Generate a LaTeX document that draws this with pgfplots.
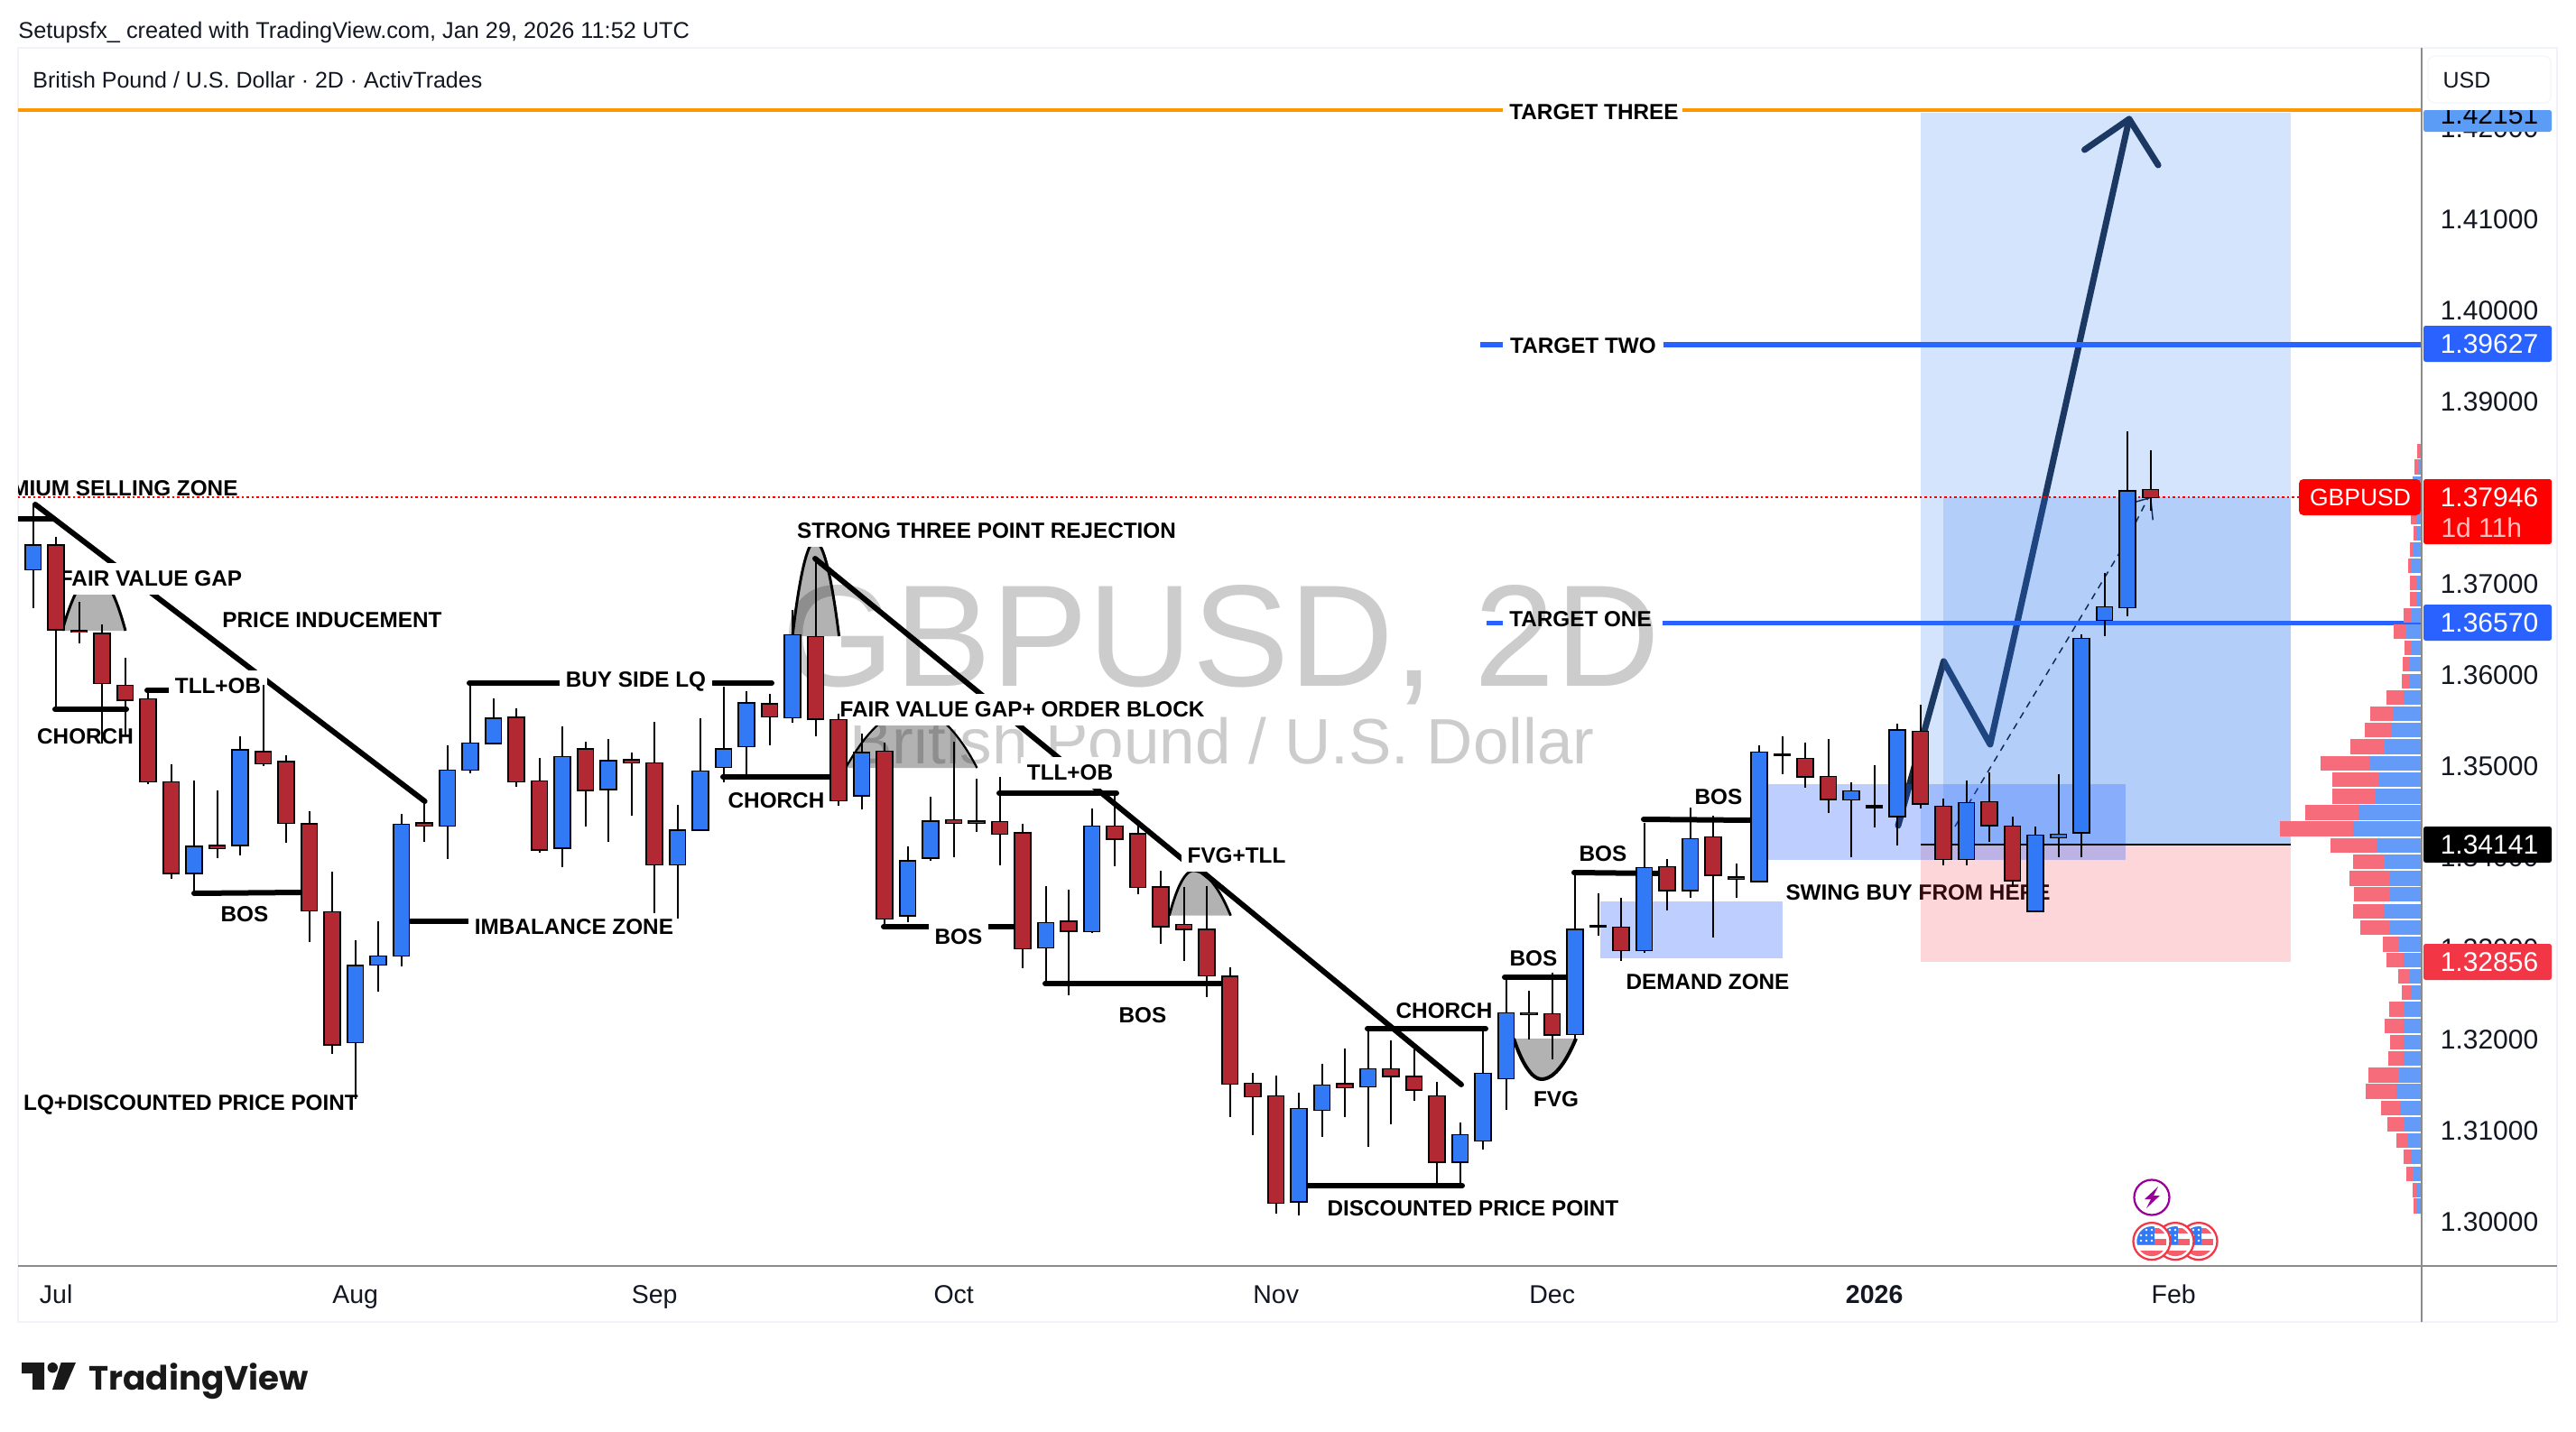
\documentclass[border=0pt]{standalone}
\usepackage{pgfplots}
\pgfplotsset{compat=1.18}
\usepackage{pgfplotstable}
\usepackage{fontspec}
\setmainfont{Liberation Sans}
\newfontfamily\logofont{Poppins}
\definecolor{cblue}{RGB}{49,121,245}
\definecolor{cred}{RGB}{178,40,51}
\definecolor{tvblue}{RGB}{41,98,255}
\definecolor{tvorange}{RGB}{255,152,0}
\definecolor{vpink}{RGB}{247,108,122}
\definecolor{vblue}{RGB}{100,155,248}
\definecolor{zoneb}{RGB}{44,121,241}
\definecolor{zoner}{RGB}{242,54,69}
\definecolor{navy}{RGB}{23,40,64}
\definecolor{wm}{RGB}{204,204,204}
\definecolor{frame}{RGB}{240,243,250}
\definecolor{axgray}{RGB}{140,140,140}
\definecolor{tagred}{RGB}{242,54,69}
\definecolor{taglight}{RGB}{91,156,246}
\definecolor{txt}{RGB}{19,23,34}
\pgfplotstableread{
i o h l c
0 1.37159 1.37879 1.36737 1.37423
7 1.33828 1.34841 1.33607 1.34116
9 1.34135 1.35325 1.34015 1.35177
14 1.3197 1.33089 1.31351 1.3281
15 1.3282 1.33295 1.32527 1.32911
16 1.32921 1.34471 1.32805 1.34356
18 1.34346 1.35225 1.33981 1.34951
19 1.34961 1.35911 1.34917 1.35249
20 1.35249 1.35743 1.35249 1.35522
23 1.34106 1.35431 1.33895 1.351
25 1.34745 1.35297 1.34164 1.35057
28 1.3392 1.34578 1.33325 1.34295
29 1.34304 1.35528 1.34304 1.34943
30 1.34991 1.35869 1.34818 1.35187
31 1.35216 1.35821 1.34909 1.35691
33 1.35533 1.36709 1.3548 1.36435
36 1.34679 1.35355 1.34525 1.35144
38 1.33363 1.34117 1.33291 1.33959
39 1.33997 1.34664 1.33963 1.34395
44 1.33008 1.33685 1.32605 1.33277
46 1.33186 1.34535 1.33167 1.34338
55 1.30221 1.31415 1.30069 1.31239
56 1.31226 1.31731 1.30931 1.31497
58 1.31485 1.32101 1.30824 1.31674
62 1.30656 1.31087 1.30397 1.30951
63 1.3089 1.32101 1.30795 1.31625
64 1.31575 1.32675 1.31231 1.3229
67 1.3206 1.33833 1.32006 1.33205
70 1.32979 1.34379 1.32955 1.33882
72 1.3364 1.34543 1.3355 1.34198
75 1.33735 1.35229 1.33735 1.35151
79 1.34632 1.34824 1.34003 1.34722
81 1.34451 1.35469 1.34127 1.35395
84 1.33979 1.34845 1.33909 1.34595
87 1.33412 1.34332 1.334 1.34237
88 1.34217 1.34907 1.34003 1.3425
89 1.3427 1.36446 1.34003 1.36397
90 1.36602 1.37123 1.3643 1.36742
91 1.36742 1.38671 1.36639 1.38018
}\bluecandles
\pgfplotstableread{
i o h l c
1 1.37423 1.37519 1.35623 1.36497
2 1.36482 1.36799 1.36343 1.36473
3 1.36449 1.36559 1.35249 1.35911
4 1.35882 1.36189 1.35335 1.35724
5 1.35733 1.35839 1.34797 1.34831
6 1.34821 1.35023 1.33761 1.33823
8 1.34125 1.34735 1.33991 1.34097
10 1.35157 1.35887 1.34999 1.35028
11 1.35047 1.35119 1.34159 1.34375
12 1.34365 1.34509 1.33065 1.33415
13 1.33396 1.33837 1.31845 1.31946
17 1.34375 1.34591 1.34173 1.34346
21 1.35532 1.35637 1.34769 1.34831
22 1.34831 1.35085 1.34049 1.34082
24 1.35186 1.35263 1.34341 1.34735
26 1.35066 1.35153 1.34457 1.35037
27 1.35029 1.3549 1.33387 1.3392
32 1.35682 1.35792 1.35231 1.35543
34 1.36416 1.37285 1.35331 1.35519
35 1.35504 1.35576 1.34568 1.34621
37 1.35159 1.35259 1.33263 1.33325
40 1.34405 1.35269 1.33997 1.34376
41 1.34391 1.34861 1.3428 1.34381
42 1.34386 1.34885 1.33915 1.34256
43 1.34266 1.34371 1.32787 1.32999
45 1.33296 1.33647 1.32485 1.33191
47 1.34338 1.34717 1.33901 1.34199
48 1.34256 1.34357 1.33599 1.33671
49 1.33671 1.33853 1.33051 1.33239
50 1.33258 1.33671 1.32864 1.33215
51 1.33205 1.3368 1.32461 1.32701
52 1.32691 1.32792 1.31151 1.31515
53 1.31515 1.31631 1.30949 1.31376
54 1.31378 1.31608 1.30089 1.30208
57 1.31514 1.319 1.31148 1.31473
59 1.31674 1.3199 1.31066 1.316
60 1.31592 1.31896 1.31329 1.31448
61 1.31378 1.31534 1.30397 1.30656
65 1.3229 1.32532 1.31998 1.32281
66 1.32277 1.32737 1.31785 1.32052
68 1.3325 1.33607 1.33135 1.33242
69 1.3323 1.3355 1.3286 1.32979
71 1.33891 1.33981 1.33414 1.3364
73 1.34219 1.34453 1.33115 1.33804
74 1.33776 1.33927 1.33558 1.33767
76 1.3513 1.35331 1.34913 1.35122
77 1.35081 1.35262 1.34761 1.34888
78 1.34882 1.35297 1.34488 1.3464
80 1.34558 1.35009 1.34324 1.3455
82 1.35379 1.35674 1.34537 1.3459
83 1.34554 1.3464 1.33913 1.33979
85 1.34603 1.34927 1.34168 1.34348
86 1.34336 1.34443 1.33675 1.33745
92 1.3803 1.3847 1.37801 1.37948
}\redcandles
\pgfplotstableread{
p a b
1.38457 103.60 103.69
1.38281 103.46 103.64
1.38096 103.37 103.44
1.37924 103.30 103.44
1.37739 103.30 103.55
1.37554 103.42 103.55
1.37374 103.28 103.37
1.37197 103.17 103.33
1.37012 103.26 103.57
1.36832 103.26 103.53
1.36651 102.99 103.33
1.36475 102.58 103.10
1.36298 103.05 103.33
1.36118 102.94 103.26
1.35933 102.90 103.26
1.35752 102.24 103.01
1.35576 101.56 102.56
1.35395 101.29 102.49
1.35214 100.66 102.17
1.35030 99.37 101.49
1.34853 99.89 101.92
1.34669 99.91 101.77
1.34492 98.71 101.04
1.34311 97.61 100.79
1.34130 99.80 101.81
1.33950 100.79 102.15
1.33769 100.64 102.40
1.33593 100.82 102.40
1.33408 100.79 102.13
1.33228 101.13 102.40
1.33047 102.08 102.80
1.32871 102.26 103.01
1.32694 102.74 103.24
1.32514 102.92 103.30
1.32333 102.37 103.03
1.32150 102.17 103.00
1.31970 102.41 103.00
1.31792 102.33 103.00
1.31611 101.47 102.81
1.31430 101.36 102.69
1.31248 102.02 102.84
1.31070 102.28 103.03
1.30893 102.69 103.17
1.30713 102.99 103.30
1.30527 103.12 103.43
1.30348 103.39 103.55
1.30171 103.43 103.57
}\volprofile
\tikzset{px/.style={x=0.4pt,y=-0.4pt}}
\pgfplotsset{ebar/.style={draw=none,no marks,forget plot}}
\newcommand{\lab}[3]{\node[fill=white,inner xsep=2.8pt,inner ysep=0pt,minimum height=14pt,text=black,font=\fontsize{9.72}{11}\selectfont\bfseries] at (#1,#2) {#3};}
\newcommand{\labn}[3]{\node[inner sep=0pt,text=black,font=\fontsize{9.72}{11}\selectfont\bfseries] at (#1,#2) {#3};}
\begin{document}
\begin{tikzpicture}
\path[use as bounding box,fill=white] (0,0) rectangle (1141.6pt,634.4pt);
\begin{scope}[px,shift={(0,-1586)}]
\node[inner sep=0pt,anchor=west,text=txt,font=\fontsize{10.12}{12}\selectfont] at (20,36) {Setupsfx\_ created with TradingView.com, Jan 29, 2026 11:52 UTC};
\draw[frame,line width=0.6pt] (20,53) rectangle (2833,1465);
\node[inner sep=0pt,anchor=west,text=txt,font=\fontsize{10}{12}\selectfont] at (36,89) {British Pound / U.S. Dollar · 2D · ActivTrades};
\node[anchor=base,inner sep=0pt,text=wm,font=\fontsize{64.2}{70}\selectfont] at (1353,760) {GBPUSD, 2D};
\node[anchor=base,inner sep=0pt,text=wm,font=\fontsize{28.4}{30}\selectfont] at (1354,846) {British Pound / U.S. Dollar};
% gray imbalance shapes
\fill[black,opacity=0.3] (69,699) parabola bend (104.7,636) (139,699) -- cycle;
\draw[black,line width=1.2pt] (69,699) parabola bend (104.7,636) (139,699);
\fill[black,opacity=0.3] (878,705) parabola bend (903,600) (929.6,705) -- cycle;
\draw[black,line width=1.2pt] (878,705) parabola bend (903,600) (929.6,705);
\fill[black,opacity=0.3] (937,851) parabola bend (1012,785) (1082.5,851) -- cycle;
\draw[black,line width=0.9pt] (937,851) parabola bend (1012,785) (1082.5,851);
\fill[black,opacity=0.3] (1295.5,1014.7) parabola bend (1322,965) (1363.5,1014.7) -- cycle;
\draw[black,line width=1.1pt] (1295.5,1014.7) parabola bend (1322,965) (1363.5,1014.7);
\fill[black,opacity=0.3] (1677,1151) parabola bend (1708,1196) (1746,1151) -- cycle;
\draw[black,line width=1.6pt] (1677,1151) parabola bend (1708,1196) (1746,1151);
% structure lines
\begin{scope}[black,line width=2.4pt,line cap=round]
\draw (39,559) -- (470.6,888);
\draw (903,619) -- (1311,953);
\draw (1332,966) -- (1619,1202);
\draw[line cap=butt] (20,575) -- (60,575);
\draw (61,786) -- (140,786);
\draw (163,765) -- (187,765);
\draw (215,990) -- (334,989);
\draw (455,1021) -- (520,1021);
\draw (520,757) -- (622,757);
\draw (790,757) -- (855,757);
\draw (801,861) -- (920,861);
\draw (1107,879) -- (1237,879);
\draw (979,1027) -- (1125,1027);
\draw (1158,1090) -- (1354,1090);
\draw (1515,1140) -- (1646,1140);
\draw (1449,1314) -- (1620,1314);
\draw (1667,1083) -- (1736,1083);
\draw (1744,967) -- (1838,968);
\draw (1821,908) -- (1940,909);
\end{scope}
% labels
\begin{scope}
\clip (20,500) rectangle (420,590);
\node[anchor=east,inner sep=0pt,text=black,font=\fontsize{9.72}{11}\selectfont\bfseries] at (264,541) {PREMIUM SELLING ZONE};
\end{scope}
\lab{167}{641.5}{FAIR VALUE GAP}
\lab{368}{687.6}{PRICE INDUCEMENT}
\lab{241.5}{760}{TLL+OB}
\labn{94.5}{816}{CHORCH}
\lab{271}{1013}{BOS}
\lab{636}{1027}{IMBALANCE ZONE}
\labn{211.5}{1224}{LQ+DISCOUNTED PRICE POINT}
\lab{704.5}{755}{BUY SIDE LQ}
\lab{1093}{588}{STRONG THREE POINT REJECTION}
\lab{1132.5}{786}{FAIR VALUE GAP+ ORDER BLOCK}
\labn{860}{887}{CHORCH}
\lab{1185.5}{856}{TLL+OB}
\lab{1370}{948}{FVG+TLL}
\lab{1062}{1038}{BOS}
\labn{1266}{1125}{BOS}
\labn{1600}{1120}{CHORCH}
\labn{1699}{1062}{BOS}
\labn{1724}{1218}{FVG}
\labn{1776}{946.5}{BOS}
\labn{1904}{883.5}{BOS}
\labn{1892}{1088}{DEMAND ZONE}
\labn{1632}{1339}{DISCOUNTED PRICE POINT}
\labn{2125}{989}{SWING BUY FROM HERE}
\end{scope}
\begin{axis}[
  at={(8pt,73.2pt)},anchor=south west,
  width=1065.2pt,height=540pt,scale only axis,
  xmin=-0.655,xmax=103.78,ymin=1.29515,ymax=1.42881,
  axis line style={draw=none},
  tick style={draw=none},
  major tick length=0pt,
  ytick={1.30,1.31,1.32,1.33,1.34,1.35,1.36,1.37,1.38,1.39,1.40,1.41,1.42},
  yticklabel pos=right,
  yticklabel style={anchor=center,xshift=30pt,text=txt,font=\fontsize{12}{14}\selectfont,
    /pgf/number format/.cd,fixed,fixed zerofill,precision=5,assume math mode=true},
  xtick={1,14,27,40,54,66,80,93},
  xticklabels={Jul,Aug,Sep,Oct,Nov,Dec,\textbf{2026},Feb},
  xticklabel style={anchor=base,yshift=-16.4pt,text=txt,font=\fontsize{11.4}{14}\selectfont},
]
% arrow and level lines lie under the position zones
\addplot[navy,line width=2.8pt,line cap=round,line join=round] coordinates {(81.03,1.34347)(83.01,1.36149)(85.03,1.35238)(91.07,1.42099)};
\addplot[navy,line width=2.8pt,line cap=round,line join=round] coordinates {(89.13,1.41762)(91.07,1.42099)(92.33,1.41594)};
\addplot[tvorange,line width=1.5pt] coordinates {(-0.655,1.42198)(63.85,1.42198)};
\addplot[tvorange,line width=1.5pt] coordinates {(71.66,1.42198)(103.78,1.42198)};
\addplot[tvblue,line width=2.3pt] coordinates {(62.87,1.39627)(63.85,1.39627)};
\addplot[tvblue,line width=2.3pt] coordinates {(70.84,1.39627)(103.78,1.39627)};
\addplot[tvblue,line width=2.3pt] coordinates {(63.15,1.3657)(63.85,1.3657)};
\addplot[tvblue,line width=2.3pt] coordinates {(70.8,1.3657)(103.78,1.3657)};
\addplot[black,line width=0.6pt,dash pattern=on 3pt off 2.6pt] coordinates {(83.5,1.34337)(90.9,1.37445)(91.9,1.37946)};
\addplot[black,line width=0.6pt] coordinates {(91.3,1.37895)(92.0,1.37946)(92.1,1.37700)};
% position zones
\addplot[fill=zoneb,draw=none,fill opacity=0.2] coordinates {(82.01,1.42168)(98.09,1.42168)(98.09,1.34141)(82.01,1.34141)} -- cycle;
\addplot[fill=zoneb,draw=none,fill opacity=0.2] coordinates {(83.0,1.37946)(98.09,1.37946)(98.09,1.34141)(83.0,1.34141)} -- cycle;
\addplot[fill=zoner,draw=none,fill opacity=0.2] coordinates {(82.01,1.34141)(98.09,1.34141)(98.09,1.32852)(82.01,1.32852)} -- cycle;
\addplot[fill=tvblue,draw=none,fill opacity=0.3] coordinates {(75.03,1.34802)(90.9,1.34802)(90.9,1.3397)(75.03,1.3397)} -- cycle;
\addplot[fill=tvblue,draw=none,fill opacity=0.3] coordinates {(68.09,1.33515)(76.01,1.33515)(76.01,1.32891)(68.09,1.32891)} -- cycle;
\addplot[black,line width=0.8pt] coordinates {(82.01,1.34141)(98.09,1.34141)};
\addplot[red,line width=0.8pt,dash pattern=on 1pt off 1.2pt] coordinates {(-0.655,1.37946)(98.44,1.37946)};
% volume profile
\addplot[ebar,error bars/.cd,x dir=minus,x explicit,error mark=none,
  error bar style={line width=6.6pt,draw=vpink}] table[x expr=103.72,y=p,x error minus expr=103.72-\thisrow{a}] {\volprofile};
\addplot[ebar,error bars/.cd,x dir=minus,x explicit,error mark=none,
  error bar style={line width=6.6pt,draw=vblue}] table[x expr=103.72,y=p,x error minus expr=103.72-\thisrow{b}] {\volprofile};
% wicks
\addplot[ebar,error bars/.cd,y dir=minus,y explicit,error mark=none,
  error bar style={line width=0.72pt,draw=black}] table[x=i,y=h,y error minus expr=\thisrow{h}-\thisrow{l}] {\bluecandles};
\addplot[ebar,error bars/.cd,y dir=minus,y explicit,error mark=none,
  error bar style={line width=0.72pt,draw=black}] table[x=i,y=h,y error minus expr=\thisrow{h}-\thisrow{l}] {\redcandles};
% bodies: outline then fill
\addplot[ebar,error bars/.cd,y dir=minus,y explicit,error mark=none,
  error bar style={line width=7.8pt,draw=black}] table[x=i,y expr=\thisrow{c}+0.00012,y error minus expr=\thisrow{c}-\thisrow{o}+0.00024] {\bluecandles};
\addplot[ebar,error bars/.cd,y dir=minus,y explicit,error mark=none,
  error bar style={line width=7.8pt,draw=black}] table[x=i,y expr=\thisrow{o}+0.00012,y error minus expr=\thisrow{o}-\thisrow{c}+0.00024] {\redcandles};
\addplot[ebar,error bars/.cd,y dir=minus,y explicit,error mark=none,
  error bar style={line width=6.3pt,draw=cblue}] table[x=i,y expr=\thisrow{c}-0.00004,y error minus expr=\thisrow{c}-\thisrow{o}-0.00008] {\bluecandles};
\addplot[ebar,error bars/.cd,y dir=minus,y explicit,error mark=none,
  error bar style={line width=6.3pt,draw=cred}] table[x=i,y expr=\thisrow{o}-0.00004,y error minus expr=\thisrow{o}-\thisrow{c}-0.00008] {\redcandles};
\end{axis}
\begin{scope}[px,shift={(0,-1586)}]
\draw[axgray,line width=0.8pt] (2683,53) -- (2683,1465);
\draw[axgray,line width=0.8pt] (20,1403) -- (2833,1403);
\fill[white] (2685,54) rectangle (2832,122);
\draw[frame,line width=0.4pt,rounded corners=3pt] (2690,62) rectangle (2826,114);
\node[inner sep=0pt,text=txt,font=\fontsize{10}{12}\selectfont] at (2733,89) {USD};
% target labels
\labn{1766}{124}{TARGET THREE}
\labn{1754}{383}{TARGET TWO}
\labn{1751}{686}{TARGET ONE}
% price tags
\fill[taglight,rounded corners=1pt] (2685,122) rectangle (2827,146);
\begin{scope}
\clip (2685,122) rectangle (2830,146);
\node[inner sep=0pt,text=black,font=\fontsize{12}{14}\selectfont] at (2758,127) {1.42151};
\end{scope}
\fill[tvblue,rounded corners=1pt] (2685,361) rectangle (2827,401);
\node[inner sep=0pt,text=white,font=\fontsize{12}{14}\selectfont] at (2758,381.5) {1.39627};
\fill[red,rounded corners=2pt] (2547,531) rectangle (2682,571);
\node[inner sep=0pt,text=white,font=\fontsize{10.6}{14}\selectfont] at (2615,551) {GBPUSD};
\fill[red,rounded corners=1pt] (2685,531) rectangle (2827,603);
\node[inner sep=0pt,text=white,font=\fontsize{12}{14}\selectfont] at (2758,551) {1.37946};
\node[inner sep=0pt,anchor=west,text=red!25,font=\fontsize{12}{14}\selectfont] at (2704,585) {1d 11h};
\fill[tvblue,rounded corners=1pt] (2685,670) rectangle (2827,710);
\node[inner sep=0pt,text=white,font=\fontsize{12}{14}\selectfont] at (2758,690) {1.36570};
\fill[black,rounded corners=1pt] (2685,916) rectangle (2827,956);
\node[inner sep=0pt,text=white,font=\fontsize{12}{14}\selectfont] at (2758,936) {1.34141};
\fill[tagred,rounded corners=1pt] (2685,1046) rectangle (2827,1086);
\node[inner sep=0pt,text=white,font=\fontsize{12}{14}\selectfont] at (2758,1066) {1.32856};
% event icons
\draw[violet!80!magenta,line width=0.9pt,fill=white] (2384,1327) circle (19.5);
\fill[violet!80!magenta] (2391,1315) -- (2376,1329) -- (2383,1329) -- (2378,1339) -- (2393,1325) -- (2386,1325) -- cycle;
\foreach \cx in {2436,2410,2384}{
  \draw[tagred,line width=0.9pt,fill=white] (\cx,1375.6) circle (20.5);
  \begin{scope}
  \clip (\cx,1375.6) circle (16.5);
  \fill[tagred!80] (\cx-17,1361) rectangle (\cx+17,1367);
  \fill[tagred!80] (\cx-17,1373) rectangle (\cx+17,1380);
  \fill[tagred!80] (\cx-17,1386) rectangle (\cx+17,1393);
  \fill[cblue] (\cx-17,1358) rectangle (\cx+3,1379);
  \foreach \sx in {-12,-6,0}{\foreach \sy in {1363,1369,1375}{\fill[white] (\cx+\sx,\sy) circle (1.3);}}
  \end{scope}
}
% logo
\fill[black!90] (24,1510) -- (49,1510) -- (49,1540) -- (36,1540) -- (36,1522) -- (24,1522) -- cycle;
\fill[black!90] (58.3,1515.7) circle (5.7);
\fill[black!90] (67.7,1510) -- (84,1510) -- (71,1540) -- (58,1540) -- cycle;
\node[inner sep=0pt,anchor=base west,text=black!90,font=\logofont\fontsize{14.9}{18}\selectfont\bfseries] at (98,1540) {TradingView};
\end{scope}
\end{tikzpicture}
\end{document}
